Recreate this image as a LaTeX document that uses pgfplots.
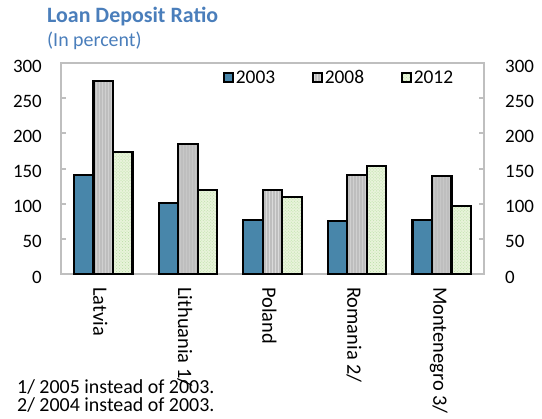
\documentclass[border=0pt]{standalone}
\usepackage{fontspec}
\setmainfont{Carlito}
\usepackage{pgfplots}
\pgfplotsset{compat=1.18}
\usetikzlibrary{patterns}
\definecolor{titleblue}{RGB}{74,126,187}
\definecolor{barblue}{RGB}{72,134,170}
\definecolor{axgray}{RGB}{191,191,191}
\definecolor{bargray}{RGB}{190,190,190}
\definecolor{stripegray}{RGB}{218,218,218}
\definecolor{bargreen}{RGB}{232,243,218}
\definecolor{dotgreen}{RGB}{185,222,165}
\begin{document}
\begin{tikzpicture}[x=1bp,y=1bp,font=\fontsize{19}{22}\selectfont]
\useasboundingbox (-61,-144) rectangle (481,274);
\begin{axis}[
  at={(0,0)}, anchor=south west,
  scale only axis, width=423bp, height=211bp,
  ybar=0pt, bar width=19.5bp,
  xmin=-0.5, xmax=4.5, ymin=0, ymax=300,
  ytick={0,50,...,300},
  xtick={0,1,2,3,4},
  xticklabels={Latvia,Lithuania 1/,Poland,Romania 2/,Montenegro 3/},
  extra x ticks={0.5,1.5,2.5,3.5},
  extra x tick labels={},
  extra x tick style={major tick length=5bp, tick style={draw=axgray, line width=2bp}},
  major x tick style={draw=none},
  xtick pos=bottom,
  tick align=inside,
  major tick length=5bp,
  y tick style={draw=axgray, line width=2bp},
  axis line style={draw=axgray, line width=2.5bp},
  /pgf/number format/assume math mode=true,
  yticklabel style={inner sep=0pt, xshift=-19bp, yshift=-3bp, anchor=east},
  ytick pos=left,
  x tick label style={yshift=-13bp, xshift=-3bp, rotate=-90, anchor=west, inner sep=0pt, font=\fontsize{20.5}{24}\selectfont},
  legend style={draw=none, fill=none, at={(0.383,0.93)}, anchor=west,
    legend columns=3, inner sep=0pt,
    /tikz/every even column/.append style={column sep=35bp},
    nodes={inner sep=2bp, font=\fontsize{19.5}{22}\selectfont}},
  legend image code/.code={\draw[#1, line width=1.6bp] (0bp,-4.5bp) rectangle (9bp,4.5bp);},
  clip=false,
]
\addplot[fill=barblue, draw=black, line width=2.2bp] coordinates {(0,141) (1,101) (2,77) (3,75) (4,77)};
\addplot[fill=bargray, draw=black, line width=2.2bp, postaction={pattern=vertical lines, pattern color=stripegray}] coordinates {(0,274) (1,185) (2,119) (3,141) (4,139)};
\addplot[fill=bargreen, draw=black, line width=2.2bp, postaction={pattern=crosshatch dots, pattern color=dotgreen}] coordinates {(0,173) (1,119) (2,109) (3,153) (4,97)};
\legend{2003,2008,2012}
\end{axis}
\begin{axis}[
  at={(0,0)}, anchor=south west,
  scale only axis, width=423bp, height=211bp,
  xmin=-0.5, xmax=4.5, ymin=0, ymax=300,
  ytick={0,50,...,300},
  hide x axis,
  axis y line*=right,
  tick align=inside,
  major tick length=5bp,
  y tick style={draw=axgray, line width=2bp},
  axis line style={draw=axgray, line width=2.5bp},
  /pgf/number format/assume math mode=true,
  yticklabel style={inner sep=0pt, xshift=21bp, yshift=-3bp, anchor=west},
]
\addplot[draw=none] coordinates {(0,0) (1,1)};
\end{axis}
\node[anchor=west, inner sep=0pt, text=titleblue, font=\fontsize{22}{26}\selectfont\bfseries] at (-14,257) {Loan Deposit Ratio};
\node[anchor=west, inner sep=0pt, text=titleblue, font=\fontsize{20}{24}\selectfont] at (-14,233) {(In percent)};
\node[anchor=west, inner sep=0pt, font=\fontsize{20}{24}\selectfont] at (-44,-113) {1/ 2005 instead of 2003.};
\node[anchor=west, inner sep=0pt, font=\fontsize{20}{24}\selectfont] at (-44,-131) {2/ 2004 instead of 2003.};
\end{tikzpicture}
\end{document}
